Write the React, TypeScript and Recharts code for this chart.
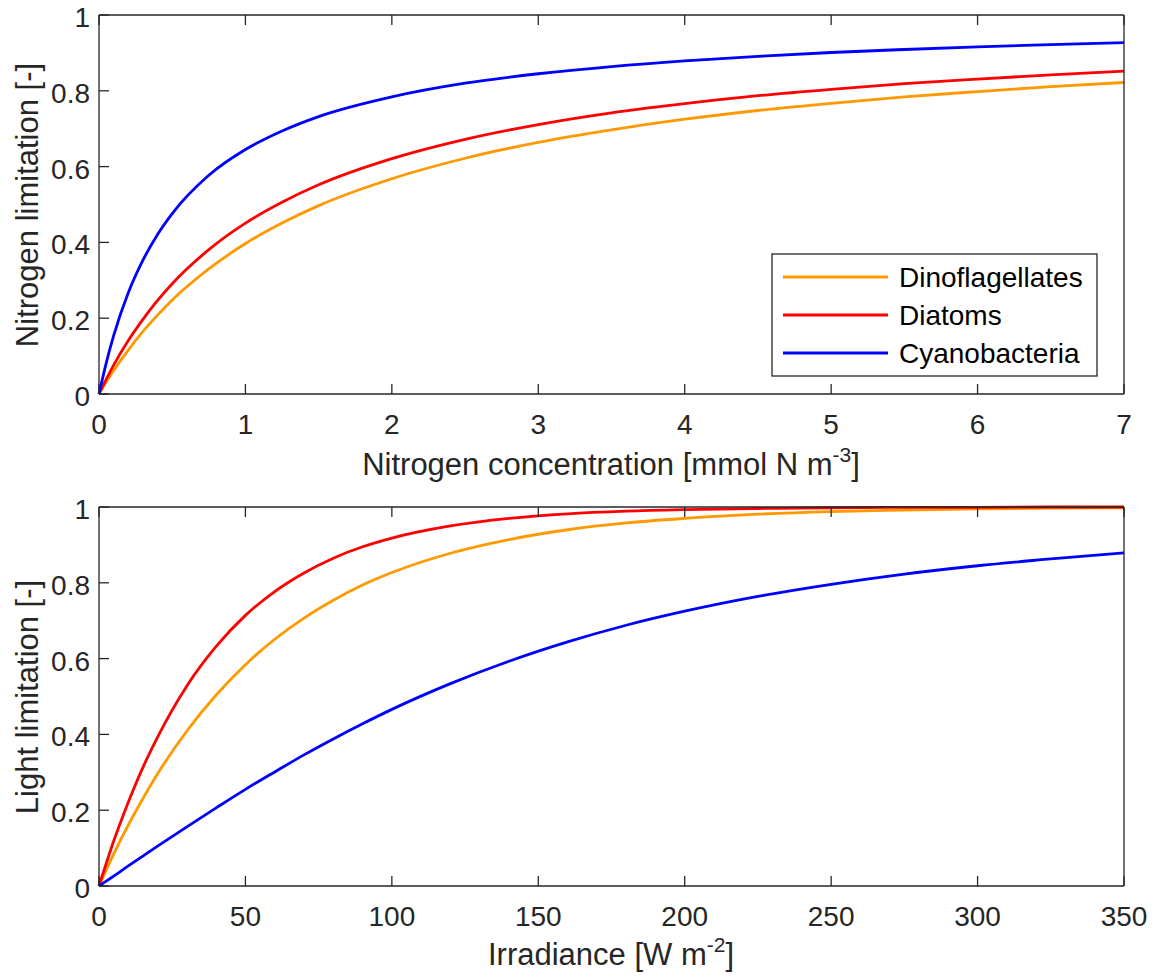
import React from 'react';
import { LineChart, Line, XAxis, YAxis } from 'recharts';

const FONT = '"Liberation Sans", Arial, Helvetica, sans-serif';
const AXIS = '#262626';
const TICK_LEN = 10;

// top panel: nitrogen limitation vs concentration
const nitrogen = [0, 0.05, 0.1, 0.2, 0.3, 0.4, 0.5, 0.75, 1, 1.25, 1.5, 2, 2.5, 3, 3.5, 4, 4.5, 5, 5.5, 6, 6.5, 7];
const nDino = [0, 0.032, 0.062, 0.116, 0.165, 0.208, 0.248, 0.33, 0.397, 0.451, 0.497, 0.568, 0.622, 0.664, 0.697, 0.725, 0.748, 0.767, 0.784, 0.798, 0.811, 0.822];
const nDiatoms = [0, 0.039, 0.076, 0.141, 0.197, 0.247, 0.291, 0.381, 0.451, 0.506, 0.552, 0.621, 0.672, 0.711, 0.742, 0.766, 0.787, 0.804, 0.819, 0.831, 0.842, 0.852];
const nCyano = [0, 0.083, 0.154, 0.267, 0.353, 0.421, 0.476, 0.577, 0.645, 0.694, 0.732, 0.784, 0.82, 0.845, 0.864, 0.879, 0.891, 0.901, 0.909, 0.916, 0.922, 0.927];

// bottom panel: light limitation vs irradiance
const irradiance = [0, 5, 10, 15, 20, 30, 40, 50, 60, 70, 80, 90, 100, 120, 140, 160, 180, 200, 225, 250, 275, 300, 325, 350];
const lDino = [0, 0.084, 0.161, 0.231, 0.296, 0.409, 0.504, 0.584, 0.651, 0.707, 0.754, 0.794, 0.827, 0.878, 0.914, 0.94, 0.958, 0.97, 0.981, 0.988, 0.992, 0.995, 0.997, 0.998];
const lDiatoms = [0, 0.118, 0.221, 0.313, 0.393, 0.528, 0.632, 0.714, 0.777, 0.826, 0.865, 0.895, 0.918, 0.95, 0.97, 0.982, 0.989, 0.993, 0.996, 0.998, 0.999, 0.999, 1.0, 1.0];
const lCyano = [0, 0.026, 0.053, 0.079, 0.105, 0.156, 0.206, 0.255, 0.301, 0.346, 0.388, 0.428, 0.466, 0.534, 0.593, 0.644, 0.688, 0.725, 0.764, 0.796, 0.823, 0.845, 0.863, 0.879];

const nitrogenTicks = [0, 1, 2, 3, 4, 5, 6, 7];
const irradianceTicks = [0, 50, 100, 150, 200, 250, 300, 350];
const limitTicks = [0, 0.2, 0.4, 0.6, 0.8, 1];

const series = [
  { key: 'dino', name: 'Dinoflagellates', color: '#ff9900' },
  { key: 'diatoms', name: 'Diatoms', color: '#ff0000' },
  { key: 'cyano', name: 'Cyanobacteria', color: '#0000ff' },
];

const nitrogenData = nitrogen.map((x, i) => ({ x, dino: nDino[i], diatoms: nDiatoms[i], cyano: nCyano[i] }));
const lightData = irradiance.map((x, i) => ({ x, dino: lDino[i], diatoms: lDiatoms[i], cyano: lCyano[i] }));

// matlab style: ticks point inward on all four sides
const BottomTick = (props: any) => {
  const { x, y, payload } = props;
  return (
    <g>
      <line x1={x} y1={y} x2={x} y2={y - TICK_LEN} stroke={AXIS} strokeWidth={1.3} />
      <text x={x} y={y + 40} textAnchor="middle" fontSize={28} fill={AXIS} fontFamily={FONT}>
        {payload.value}
      </text>
    </g>
  );
};

const TopTick = (props: any) => {
  const { x, y } = props;
  return <line x1={x} y1={y} x2={x} y2={y + TICK_LEN} stroke={AXIS} strokeWidth={1.3} />;
};

const LeftTick = (props: any) => {
  const { x, y, payload } = props;
  return (
    <g>
      <line x1={x} y1={y} x2={x + TICK_LEN} y2={y} stroke={AXIS} strokeWidth={1.3} />
      <text x={x - 9} y={y + 12} textAnchor="end" fontSize={28} fill={AXIS} fontFamily={FONT}>
        {payload.value}
      </text>
    </g>
  );
};

const RightTick = (props: any) => {
  const { x, y } = props;
  return <line x1={x} y1={y} x2={x - TICK_LEN} y2={y} stroke={AXIS} strokeWidth={1.3} />;
};

const axisLine = { stroke: AXIS, strokeWidth: 1.3 };

const Panel = ({ data, xTicks, xMax, top }: { data: any[]; xTicks: number[]; xMax: number; top: number }) => (
  <div style={{ position: 'absolute', left: 0, top }}>
    <LineChart width={1160} height={490} data={data} margin={{ top: 14, right: 35, bottom: 0, left: 0 }}>
      <XAxis
        dataKey="x"
        type="number"
        domain={[0, xMax]}
        ticks={xTicks}
        interval={0}
        height={96}
        tickSize={0}
        tickMargin={0}
        tickLine={false}
        axisLine={axisLine}
        tick={<BottomTick />}
      />
      <XAxis
        xAxisId="top"
        orientation="top"
        dataKey="x"
        type="number"
        domain={[0, xMax]}
        ticks={xTicks}
        interval={0}
        height={1}
        tickSize={0}
        tickMargin={0}
        tickLine={false}
        axisLine={axisLine}
        tick={<TopTick />}
      />
      <YAxis
        type="number"
        domain={[0, 1]}
        ticks={limitTicks}
        interval={0}
        width={99}
        tickSize={0}
        tickMargin={0}
        tickLine={false}
        axisLine={axisLine}
        tick={<LeftTick />}
      />
      <YAxis
        yAxisId="right"
        orientation="right"
        type="number"
        domain={[0, 1]}
        ticks={limitTicks}
        interval={0}
        width={1}
        tickSize={0}
        tickMargin={0}
        tickLine={false}
        axisLine={axisLine}
        tick={<RightTick />}
      />
      {series.map((s) => (
        <Line
          key={s.key}
          type="monotone"
          dataKey={s.key}
          name={s.name}
          stroke={s.color}
          strokeWidth={2.8}
          dot={false}
          isAnimationActive={false}
        />
      ))}
    </LineChart>
  </div>
);

const App: React.FC = () => (
  <div style={{ position: 'absolute', left: 0, top: 0, width: 1160, height: 979, background: '#fff', overflow: 'hidden', fontFamily: FONT }}>
    <Panel data={nitrogenData} xTicks={nitrogenTicks} xMax={7} top={0} />
    <Panel data={lightData} xTicks={irradianceTicks} xMax={350} top={492} />
    <svg width={1160} height={979} style={{ position: 'absolute', left: 0, top: 0, pointerEvents: 'none' }} fontFamily={FONT}>
      <text x={611} y={475} textAnchor="middle" fontSize={31} fill={AXIS}>
        Nitrogen concentration [mmol N m<tspan dy={-13} fontSize={21}>-3</tspan>
        <tspan dy={13}>]</tspan>
      </text>
      <text transform="translate(38,205) rotate(-90)" textAnchor="middle" fontSize={31} fill={AXIS}>
        Nitrogen limitation [-]
      </text>
      <text x={611} y={965} textAnchor="middle" fontSize={31} fill={AXIS}>
        Irradiance [W m<tspan dy={-13} fontSize={21}>-2</tspan>
        <tspan dy={13}>]</tspan>
      </text>
      <text transform="translate(38,697) rotate(-90)" textAnchor="middle" fontSize={31} fill={AXIS}>
        Light limitation [-]
      </text>
      {/* legend */}
      <rect x={772} y={254} width={325} height={122} fill="#fff" stroke={AXIS} strokeWidth={1.3} />
      {series.map((s, i) => (
        <g key={s.key}>
          <line x1={783} x2={888} y1={277 + i * 38} y2={277 + i * 38} stroke={s.color} strokeWidth={2.8} />
          <text x={899} y={287 + i * 38} fontSize={28} fill="#000">
            {s.name}
          </text>
        </g>
      ))}
    </svg>
  </div>
);

export default App;
